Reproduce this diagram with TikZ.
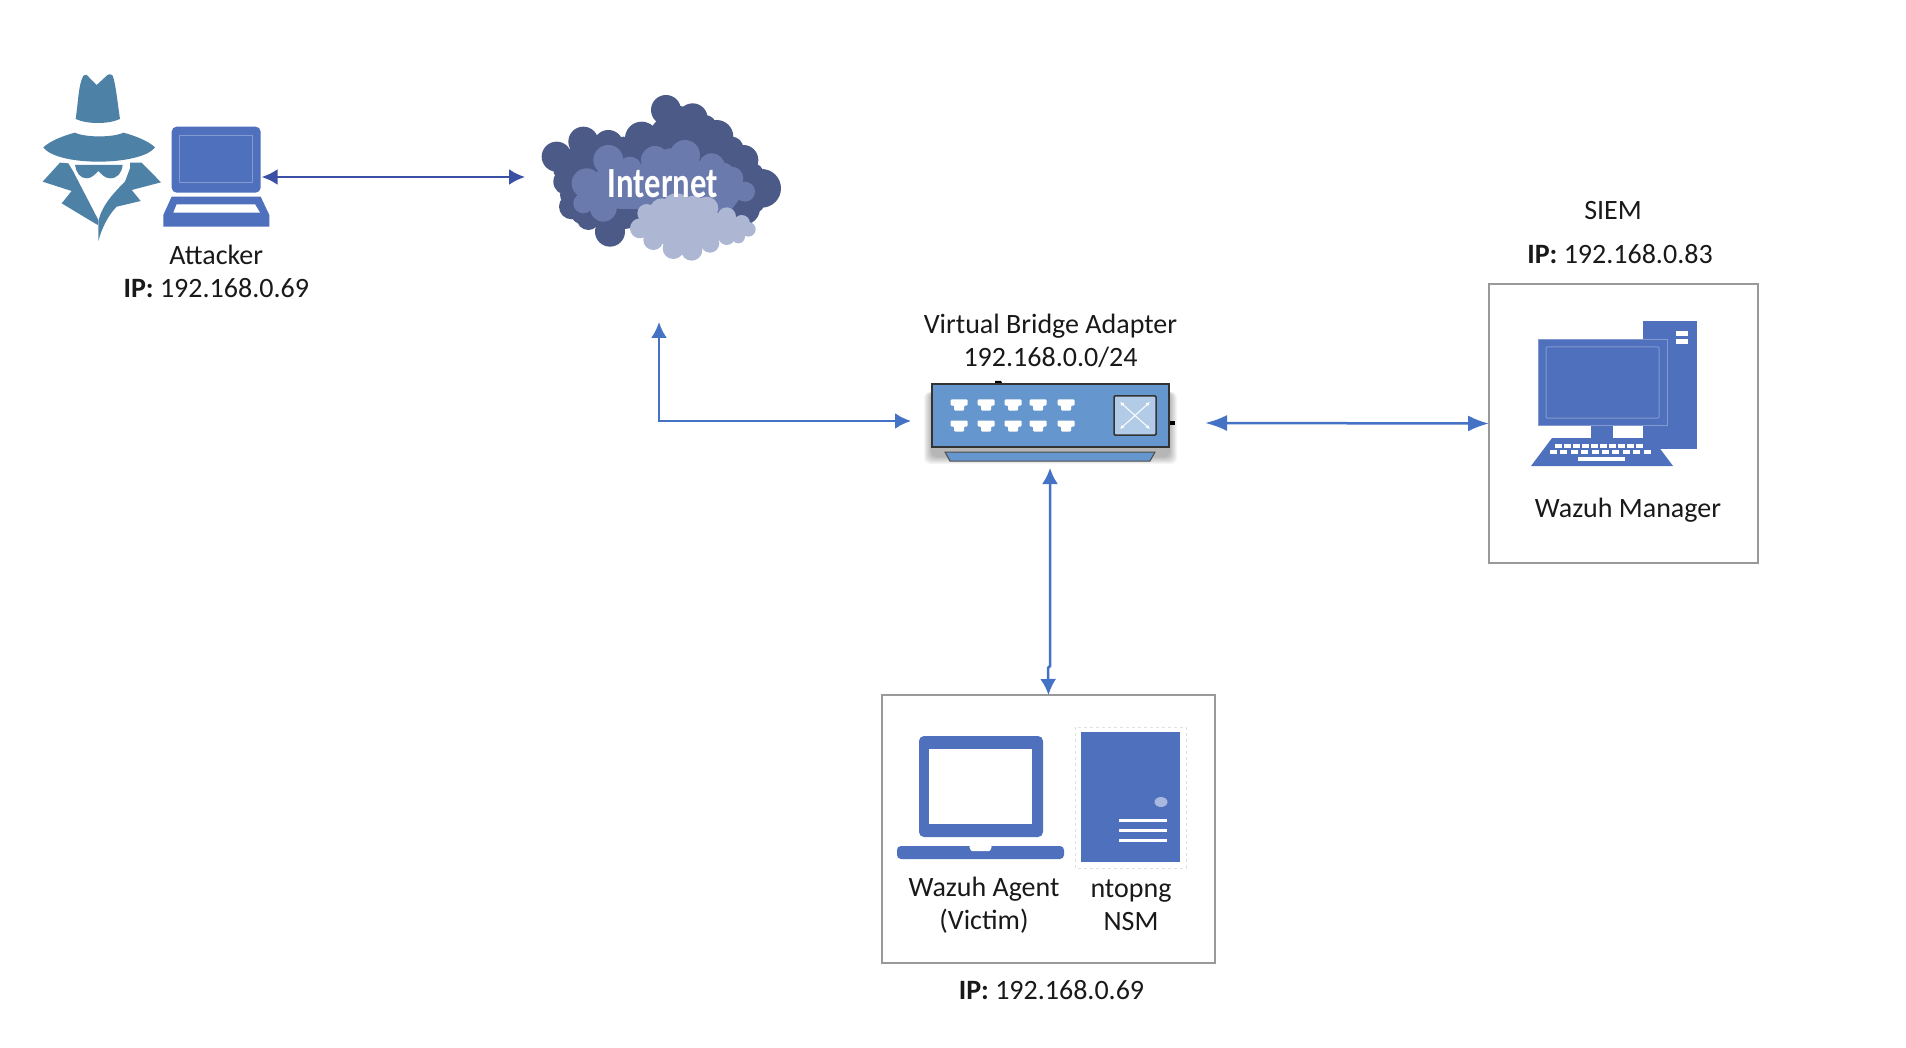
\documentclass[tikz,border=0pt]{standalone}
\usepackage{fontspec}
\setmainfont{Carlito}
\usetikzlibrary{arrows.meta,positioning}
\definecolor{pcblue}{HTML}{4E70BD}
\definecolor{linkblue}{HTML}{4472C4}
\definecolor{toplink}{HTML}{3B4FA5}
\definecolor{spyblue}{HTML}{4D81A5}
\definecolor{clouddark}{HTML}{4C5A88}
\definecolor{cloudmid}{HTML}{6A7AAC}
\definecolor{cloudlight}{HTML}{ADB7D3}
\definecolor{switchblue}{HTML}{6597CE}
\definecolor{screenline}{HTML}{8499D0}

\begin{document}
\begin{tikzpicture}[
		x=1pt, y=-1pt,
		label/.style={font=\fontsize{28}{33}\selectfont, align=center, text=black!90, inner sep=0pt},
		box/.style={draw=black!40, line width=1.3pt, fill=white, inner sep=0pt, outer sep=0pt},
		icon/.style={inner sep=0pt, outer sep=0pt},
		arrow/.style={linkblue, line width=2.5pt, {Latex[length=16pt,width=16pt]}-{Latex[length=16pt,width=16pt]}},
		bigarrow/.style={linkblue, line width=2.5pt, {Latex[length=22pt,width=16pt]}-{Latex[length=21pt,width=16pt]}},
		jack/.pic={\fill[white, rounded corners=1pt] (-8.5,-5.5) -- (8.5,-5.5) -- (8.5,0.5) -- (5,0.5) -- (5,5.5) -- (-5,5.5) -- (-5,0.5) -- (-8.5,0.5) -- cycle;},
	]
		\useasboundingbox (0,0) rectangle (1906,1048);
		\fill[white] (0,0) rectangle (1906,1048);

		% attacker
		\begin{scope}[shift={(30,65)}, scale=1/3]
			\fill[spyblue] (137,162) .. controls (145,110) and (145,60) .. (160,32) .. controls (165,25) and (172,30) .. (178,38) -- (200,60) -- (226,36) .. controls (232,28) and (242,25) .. (248,32) .. controls (258,60) and (262,110) .. (270,162) .. controls (235,178) and (172,178) .. (137,162) -- cycle;
			\fill[spyblue] (40,247) .. controls (60,228) and (100,212) .. (135,203) .. controls (165,218) and (250,218) .. (280,203) .. controls (315,212) and (355,228) .. (375,247) .. controls (355,275) and (280,290) .. (205,290) .. controls (130,290) and (60,275) .. (40,247) -- cycle;
			\fill[spyblue] (135,300) -- (278,300) .. controls (275,325) and (262,340) .. (240,340) .. controls (225,340) and (215,328) .. (205,318) .. controls (195,328) and (185,340) .. (170,340) .. controls (150,340) and (138,322) .. (135,300) -- cycle;
			\fill[spyblue] (90,293) -- (115,295) -- (130,320) -- (205,465) -- (203,480) -- (95,415) -- (125,378) -- (38,350) -- cycle;
			\fill[spyblue] (300,293) -- (335,293) -- (393,352) -- (305,375) -- (332,408) -- (260,425) .. controls (235,450) and (215,490) .. (205,528) -- (205,470) .. controls (215,420) and (255,380) .. (285,350) -- (300,310) -- cycle;

			\fill[pcblue, rounded corners=5pt] (425,383) -- (425,185) -- (692,185) -- (692,383) -- cycle;
			\draw[screenline, line width=1pt] (450,213) rectangle (668,353);
			\fill[pcblue] (425,395) -- (692,395) -- (718,450) -- (718,485) -- (400,485) -- (400,450) -- cycle;
			\fill[white] (440,418) -- (675,418) -- (690,443) -- (430,443) -- cycle;
		\end{scope}
		\node[icon, minimum width=88.7pt, minimum height=100pt] (attackerpc) at (217.3,177) {};
		\node[label, below=18pt of attackerpc.south, xshift=-1pt] (attackerlabel) {Attacker\\\textbf{IP:} 192.168.0.69};

		% cloud
		\begin{scope}[shift={(530,85)}, scale=1/3]
			\fill[clouddark] plot coordinates {(408,75) (488,100) (560,155) (640,225) (695,310) (640,370) (240,440) (175,400) (125,365) (110,290) (80,215) (160,170) (235,180) (335,160)} -- cycle;
			\foreach \cx/\cy/\cr in {408/75/45, 488/100/45, 335/160/50, 560/155/50, 160/170/45, 235/180/45, 80/215/45, 640/225/45, 695/310/58, 110/290/40, 125/365/38, 175/400/35, 240/440/45, 640/370/50, 100/255/30, 120/330/30, 150/390/25, 280/185/30, 450/95/32, 525/125/35, 605/190/35, 670/265/30, 670/350/35}
				\fill[clouddark] (\cx,\cy) circle (\cr);
			\fill[cloudmid] plot coordinates {(235,225) (300,250) (375,225) (465,210) (545,245) (605,280) (645,320) (600,380) (220,370) (160,355) (170,295)} -- cycle;
			\foreach \cx/\cy/\cr in {235/225/45, 300/250/35, 375/225/42, 465/210/45, 545/245/40, 605/280/35, 645/320/30, 170/295/45, 160/355/30, 220/370/40, 420/225/35, 580/265/32}
				\fill[cloudmid] (\cx,\cy) circle (\cr);
			\fill[cloudlight] plot coordinates {(440,370) (530,370) (590,395) (635,415) (655,433) (625,455) (590,455) (540,475) (485,495) (430,490) (370,465) (330,430) (350,385)} -- cycle;
			\foreach \cx/\cy/\cr in {440/370/45, 530/370/35, 590/395/28, 635/415/25, 655/433/22, 625/455/20, 350/385/28, 330/430/30, 370/465/30, 430/490/32, 485/495/32, 540/475/28, 590/455/25, 395/375/35, 490/370/38}
				\fill[cloudlight] (\cx,\cy) circle (\cr);
		\end{scope}
		\node[icon, text=white, font=\fontsize{43}{43}\bfseries\selectfont, xscale=0.76, transform shape] (internet) at (663,184) {Internet};
		\coordinate (inetleft) at (525,177);
		\coordinate (inetbelow) at (659,322);
		\coordinate (inetbend) at (659,421);

		% switch
		\foreach \d in {1,...,8}
			\fill[black, opacity=0.04, rounded corners=6pt] (932-\d,392) rectangle (1169+\d,456+\d);
		\fill[black] (995,381) -- (1001,381) -- (1003,385) -- (995,385) -- cycle;
		\fill[black] (1169,421) rectangle (1175,425);
		\node[icon, draw=black!80, line width=2pt, fill=switchblue, minimum width=237pt, minimum height=63pt] (switch) at (1050.5,415.5) {};
		\fill[switchblue, draw=black!70, line width=1pt] (945,452) -- (1155,452) -- (1150,461) -- (950,461) -- cycle;
		\foreach \jx in {959,986,1013,1038,1066} {
			\pic at (\jx,405) {jack};
			\pic at (\jx,426) {jack};
		}
		\fill[switchblue!50, draw=black!80, line width=1.5pt, rounded corners=1pt] (1114,396) rectangle (1156,435);
		\draw[white, line width=1pt, {Latex[length=4pt,width=4pt]}-{Latex[length=4pt,width=4pt]}] (1120,402) -- (1150,429);
		\draw[white, line width=1pt, {Latex[length=4pt,width=4pt]}-{Latex[length=4pt,width=4pt]}] (1150,402) -- (1120,429);
		\node[label, above=16pt of switch] (switchlabel) {Virtual Bridge Adapter\\192.168.0.0/24};
		\coordinate (swleft) at (911,421);
		\coordinate (swright) at (1205,423);
		\coordinate (swbelow) at (1050,468);
		\coordinate (swjog) at (1050,666);

		% manager
		\node[box, minimum width=269pt, minimum height=279pt] (mgrbox) at (1623.5,423.5) {};
		\fill[pcblue] (1643,321) rectangle (1697,449);
		\fill[white] (1676,331) rectangle (1688,336);
		\fill[white] (1676,339) rectangle (1688,344);
		\fill[pcblue] (1591,425) rectangle (1613,438);
		\fill[pcblue, draw=screenline, line width=0.6pt] (1538,339) rectangle (1667,425);
		\draw[screenline, line width=1pt, rounded corners=1pt] (1546,347) rectangle (1659,418);
		\fill[pcblue] (1552,438) -- (1652,438) -- (1673,466) -- (1531,466) -- cycle;
		\foreach \kx in {0,...,9} {
			\fill[white] (1555+\kx*9,444) rectangle ++(6.5,4);
			\fill[white] (1550+\kx*10.4,450) rectangle ++(7,4);
		}
		\fill[white] (1578,457) rectangle (1625,461);
		\node[label] (siemlabel) at (1613,211) {SIEM};
		\node[label] (mgrip) at (1620,254.5) {\textbf{IP:} 192.168.0.83};
		\node[label] (mgrlabel) at (1628,510) {Wazuh Manager};

		% agent
		\node[box, minimum width=333pt, minimum height=268pt] (agentbox) at (1048.5,829) {};
		\fill[pcblue, rounded corners=5pt] (919,837) -- (919,736) -- (1043,736) -- (1043,837) -- cycle;
		\fill[white] (929,749) rectangle (1032,824);
		\fill[pcblue, rounded corners=4pt] (897,846) -- (1064,846) -- (1064,859) -- (897,859) -- cycle;
		\fill[white, rounded corners=1pt] (969,846) -- (992,846) -- (990,851) -- (971,851) -- cycle;
		\draw[black!12, line width=1pt, dashed] (1075,727) rectangle (1186,868);
		\fill[pcblue] (1081,732) rectangle (1180,862);
		\fill[screenline!70!white] (1161,802) ellipse (6.5 and 5);
		\foreach \ly in {820,830,840}
			\fill[white] (1119,\ly-1.5) rectangle (1167,\ly+1.5);
		\node[label] (agentlabel) at (984,905.5) {Wazuh Agent\\(Victim)};
		\node[label] (nsmlabel) at (1131,905.5) {ntopng\\NSM};
		\node[label, below=17pt of agentbox, xshift=3pt] (agentip) {\textbf{IP:} 192.168.0.69};

		% links
		\draw[arrow, toplink] (attackerpc.east) -- (inetleft);
		\draw[arrow] (inetbelow) -- (inetbend) -- (swleft);
		\draw[bigarrow] (swright) -- (mgrbox.west);
		\draw[arrow] (swbelow) -- (swjog) -- ++(-2,2) -- (agentbox.north);
	\end{tikzpicture}
\end{document}
